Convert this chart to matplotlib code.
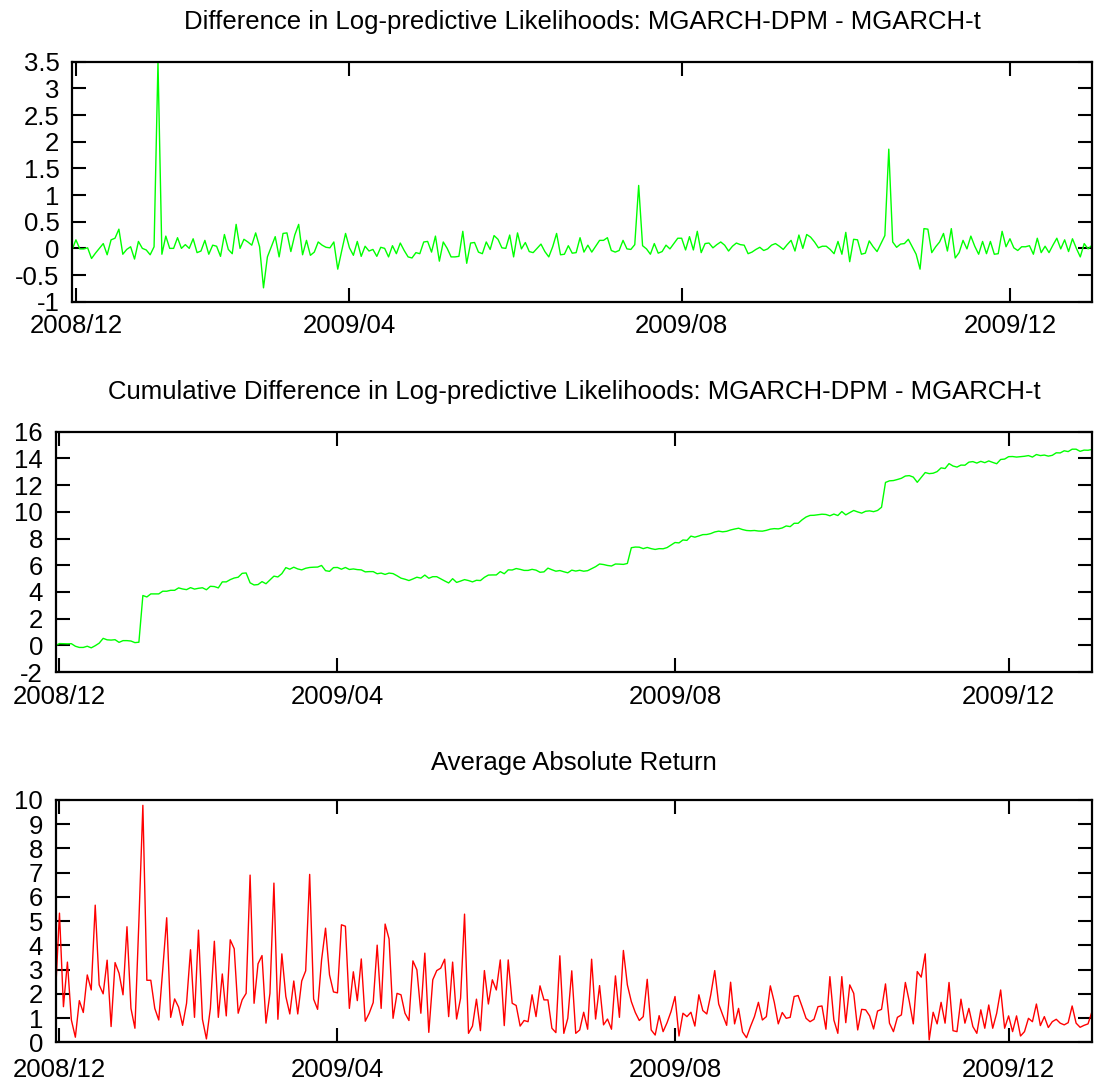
import numpy as np
import matplotlib
matplotlib.use("Agg")
import matplotlib.pyplot as plt
from matplotlib.ticker import FormatStrFormatter

plt.rcParams['font.family'] = ['Liberation Sans', 'DejaVu Sans']

# trading-day index positions of the month labels
tick_pos = [1, 71, 156, 240]
tick_labels = ['2008/12', '2009/04', '2009/08', '2009/12']

# daily difference in log-predictive likelihoods (MGARCH-DPM - MGARCH-t)
diff_lpl = [
    -0.03, 0.16, -0.01, -0.01, 0.01, -0.19, -0.09, 0.00, 0.09, -0.12,
    0.16, 0.19, 0.36, -0.11, -0.02, 0.03, -0.20, 0.13, 0.00, -0.03,
    -0.12, 0.03, 3.50, -0.11, 0.23, 0.00, 0.00, 0.20, 0.00, 0.07,
    0.00, 0.18, -0.08, -0.05, 0.15, -0.11, 0.06, 0.04, -0.15, 0.26,
    -0.02, -0.10, 0.45, 0.00, 0.17, 0.12, 0.06, 0.29, 0.03, -0.74,
    -0.16, 0.03, 0.22, -0.16, 0.28, 0.29, -0.06, 0.25, 0.45, -0.12,
    0.15, -0.13, -0.07, 0.12, 0.06, 0.02, 0.01, 0.12, -0.39, -0.05,
    0.28, 0.01, -0.13, 0.13, -0.15, 0.04, -0.05, -0.02, -0.15, 0.02,
    0.00, -0.16, 0.05, -0.10, 0.10, -0.04, -0.16, -0.18, -0.08, -0.10,
    0.12, 0.13, -0.07, 0.23, -0.24, 0.12, 0.00, -0.16, -0.16, -0.15,
    0.32, -0.28, 0.10, 0.11, -0.07, -0.10, 0.12, -0.02, 0.24, 0.17,
    0.01, 0.00, 0.25, -0.16, 0.29, -0.01, 0.11, -0.06, -0.08, 0.00,
    0.08, -0.06, -0.16, 0.03, 0.28, -0.12, -0.11, 0.05, -0.09, -0.08,
    0.20, -0.07, 0.06, -0.07, 0.04, 0.15, 0.15, 0.20, -0.04, -0.07,
    -0.04, 0.15, -0.01, -0.02, 0.07, 1.18, 0.05, -0.01, -0.11, 0.09,
    -0.09, -0.06, 0.06, -0.01, 0.09, 0.19, 0.19, -0.03, 0.22, -0.03,
    0.32, -0.08, 0.09, 0.10, 0.01, 0.07, 0.12, 0.06, -0.05, 0.04,
    0.10, 0.07, 0.06, -0.10, -0.07, -0.02, 0.02, -0.04, -0.01, 0.06,
    0.09, 0.04, -0.02, 0.07, 0.15, -0.05, 0.25, 0.00, 0.26, 0.21,
    0.12, 0.01, 0.04, 0.04, -0.02, -0.10, 0.13, -0.11, 0.30, -0.25,
    0.17, 0.16, -0.11, -0.09, 0.14, 0.03, -0.06, 0.09, 0.24, 1.86,
    0.12, 0.02, 0.08, 0.09, 0.17, 0.03, -0.11, -0.39, 0.37, 0.36,
    -0.08, 0.03, 0.12, 0.28, -0.05, 0.37, -0.18, -0.08, 0.15, -0.01,
    0.23, 0.04, -0.11, 0.13, -0.10, 0.13, -0.11, -0.10, 0.32, 0.03,
    0.18, 0.01, -0.04, 0.03, 0.03, 0.05, -0.11, 0.19, -0.08, 0.04,
    -0.08, 0.06, 0.19, -0.01, 0.16, -0.06, 0.18, 0.00, -0.16, 0.09,
    -0.01, 0.06,
]

# average absolute return
avg_abs_ret = [
    2.02, 5.33, 1.47, 3.31, 0.92, 0.21, 1.72, 1.23, 2.78, 2.16,
    5.66, 2.37, 2.00, 3.39, 0.65, 3.29, 2.85, 1.96, 4.77, 1.40,
    0.58, 5.00, 9.78, 2.56, 2.56, 1.40, 0.92, 3.00, 5.14, 1.03,
    1.79, 1.45, 0.70, 1.61, 3.82, 1.03, 4.63, 0.95, 0.14, 1.40,
    4.17, 1.03, 2.82, 1.09, 4.23, 3.86, 1.20, 1.75, 2.02, 6.90,
    1.61, 3.24, 3.58, 0.79, 2.02, 6.57, 0.95, 3.65, 1.89, 1.17,
    2.53, 1.17, 2.53, 2.95, 6.93, 1.78, 1.36, 3.40, 4.71, 2.78,
    2.08, 2.04, 4.85, 4.79, 1.40, 2.91, 1.72, 3.44, 0.87, 1.20,
    1.64, 4.01, 1.40, 4.88, 4.26, 0.99, 2.02, 1.96, 1.20, 0.90,
    3.36, 2.99, 1.20, 3.68, 0.41, 2.58, 2.96, 3.06, 3.43, 1.06,
    3.31, 0.96, 1.82, 5.29, 0.37, 0.67, 1.78, 0.48, 2.96, 1.58,
    2.58, 2.16, 3.40, 0.69, 3.40, 1.61, 1.52, 0.67, 0.90, 0.85,
    1.96, 1.06, 2.33, 1.75, 1.75, 0.58, 0.40, 3.57, 0.37, 0.99,
    2.95, 0.37, 0.51, 1.24, 0.54, 3.43, 0.96, 2.34, 0.72, 0.96,
    0.54, 2.74, 1.03, 3.79, 2.37, 1.68, 1.23, 0.90, 1.06, 2.60,
    0.51, 0.30, 1.10, 0.44, 0.81, 1.27, 1.89, 0.26, 1.20, 1.06,
    1.24, 0.67, 1.96, 1.31, 1.17, 1.96, 2.96, 1.58, 1.13, 0.70,
    2.48, 0.76, 1.40, 0.43, 0.19, 0.65, 1.06, 1.65, 0.92, 1.06,
    2.33, 1.65, 0.76, 1.23, 0.99, 1.03, 1.89, 1.93, 1.47, 0.99,
    0.85, 0.95, 1.47, 1.50, 0.54, 2.71, 0.92, 0.37, 2.71, 0.81,
    2.37, 2.02, 0.51, 1.36, 1.34, 1.09, 0.55, 1.29, 1.36, 2.41,
    0.79, 0.44, 1.03, 1.13, 2.47, 1.68, 0.76, 2.92, 2.69, 3.65,
    0.10, 1.24, 0.76, 1.65, 0.79, 2.47, 0.48, 0.44, 1.78, 0.79,
    1.40, 0.65, 0.37, 1.34, 0.58, 1.54, 0.58, 1.20, 2.16, 0.58,
    1.09, 0.44, 1.09, 0.26, 0.44, 0.99, 0.85, 1.58, 0.69, 1.06,
    0.61, 0.85, 0.95, 0.79, 0.72, 0.81, 1.50, 0.79, 0.62, 0.70,
    0.76, 1.27,
]

x = np.arange(len(diff_lpl))
cum_lpl = np.cumsum(diff_lpl)

W, H = 1094, 1089
fig = plt.figure(figsize=(W / 100, H / 100), dpi=100)
FS = 18.5


def box(l, t, r, b):
    return [l / W, 1 - b / H, (r - l) / W, (b - t) / H]


def style(ax, ylo, yhi, ystep, xpad=9):
    ax.set_xlim(0, len(x) - 1)
    ax.set_ylim(ylo, yhi)
    ax.set_xticks(tick_pos)
    ax.set_xticklabels(tick_labels)
    ax.set_yticks(np.arange(ylo, yhi + ystep / 2, ystep))
    ax.yaxis.set_major_formatter(FormatStrFormatter('%g'))
    ax.tick_params(direction='in', length=10, width=1.5, labelsize=FS,
                   top=True, right=True)
    ax.tick_params(axis='y', pad=9)
    ax.tick_params(axis='x', pad=xpad)
    for s in ax.spines.values():
        s.set_linewidth(1.6)


ax1 = fig.add_axes(box(72, 61.7, 1092, 301.7))
ax1.plot(x, diff_lpl, color='#00ff00', lw=1.0)
style(ax1, -1, 3.5, 0.5)

ax2 = fig.add_axes(box(55.5, 431.7, 1092, 672))
ax2.plot(x, cum_lpl, color='#00ff00', lw=1.0)
style(ax2, -2, 16, 2)

ax3 = fig.add_axes(box(55.5, 800, 1092, 1042.3))
ax3.plot(x, avg_abs_ret, color='#ff0000', lw=1.0)
style(ax3, 0, 10, 1, xpad=11.5)

titles = ['Difference in Log-predictive Likelihoods: MGARCH-DPM - MGARCH-t',
          'Cumulative Difference in Log-predictive Likelihoods: MGARCH-DPM - MGARCH-t',
          'Average Absolute Return']
for t, cx, cy in zip(titles, [582, 574, 574], [22, 392, 763]):
    fig.text(cx / W, 1 - cy / H, t, ha='center', va='center', fontsize=FS)

fig.savefig('out.png', dpi=100)
